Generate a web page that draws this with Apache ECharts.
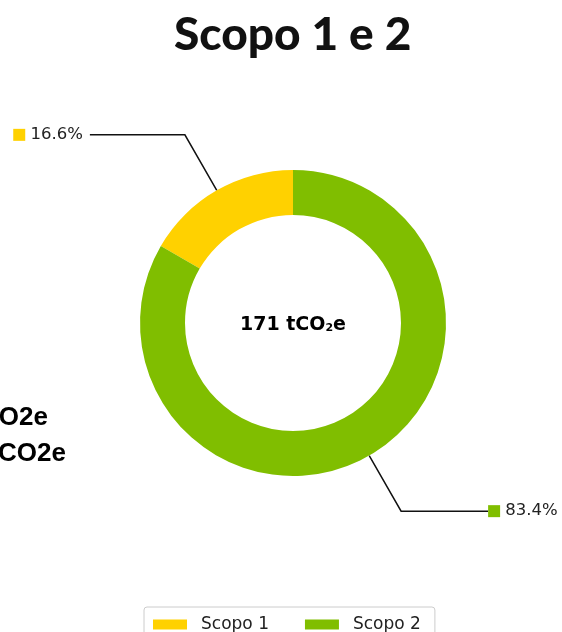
<!DOCTYPE html>
<html>
<head>
<meta charset="utf-8">
<script src="https://cdn.jsdelivr.net/npm/echarts@6/dist/echarts.min.js"></script>
<style>
html,body{margin:0;padding:0;background:#fff;}
#chart{width:562px;height:632px;}
</style>
</head>
<body>
<div id="chart"></div>
<script>
var categories = ['Scopo 1', 'Scopo 2'];
var shares = [16.6, 83.4];
var totalLabel = '171';
var sideLines = ['Scopo 1: 28 tCO2e', 'Scopo 2: 143 tCO2e'];
var colors = ['#FFD100', '#80BE00'];

var chart = echarts.init(document.getElementById('chart'), null, {renderer: 'canvas'});

var perItem = [
  {length: 64, length2: 95, dist: 7},
  {length: 64, length2: 87, dist: 0}
];

var data = categories.map(function (c, i) {
  return {
    name: c,
    value: shares[i],
    itemStyle: {color: colors[i]},
    labelLine: {length: perItem[i].length, length2: perItem[i].length2},
    label: {
      distanceToLabelLine: perItem[i].dist,
      formatter: '{sq' + i + '|}{t| ' + shares[i].toFixed(1) + '%}'
    }
  };
});

var option = {
  animation: false,
  title: {
    text: 'Scopo 1 e 2',
    left: 169,
    top: 7,
    textStyle: {fontFamily: 'Lato', fontWeight: 900, fontSize: 46, color: '#111'}
  },
  legend: {
    data: categories,
    left: 144,
    top: 607,
    itemWidth: 34,
    itemHeight: 10,
    itemGap: 36,
    padding: [9, 14, 10, 9],
    borderColor: '#cccccc',
    borderWidth: 1,
    borderRadius: 3,
    icon: 'rect',
    textStyle: {fontFamily: 'DejaVu Sans', fontSize: 17, color: '#222', padding: [0, 0, 0, 9]}
  },
  graphic: [
    {type: 'text', x: 48, y: 418, style: {text: sideLines[0], align: 'right', verticalAlign: 'middle', font: 'bold 26px "Liberation Sans"', fill: '#000'}},
    {type: 'text', x: 66, y: 454, style: {text: sideLines[1], align: 'right', verticalAlign: 'middle', font: 'bold 26px "Liberation Sans"', fill: '#000'}},
    {type: 'text', x: 293, y: 325, style: {
      text: '{b|' + totalLabel + ' tCO}{s|2}{b|e}',
      align: 'center', verticalAlign: 'middle',
      rich: {
        b: {fontFamily: 'DejaVu Sans', fontWeight: 'bold', fontSize: 19, color: '#111'},
        s: {fontFamily: 'DejaVu Sans', fontWeight: 'bold', fontSize: 11, color: '#111', padding: [6, 0, 0, 0]}
      }
    }}
  ],
  series: [{
    type: 'pie',
    center: [293, 323],
    radius: [108, 153],
    startAngle: 90,
    clockwise: false,
    avoidLabelOverlap: false,
    data: data,
    label: {
      show: true,
      position: 'outside',
      rich: {
        sq0: {backgroundColor: colors[0], width: 12, height: 12},
        sq1: {backgroundColor: colors[1], width: 12, height: 12},
        t: {fontFamily: 'DejaVu Sans', fontSize: 16.5, color: '#222'}
      }
    },
    labelLine: {show: true, lineStyle: {color: '#111', width: 1.5}, smooth: false},
    emphasis: {disabled: true}
  }]
};
chart.setOption(option);
</script>
</body>
</html>
